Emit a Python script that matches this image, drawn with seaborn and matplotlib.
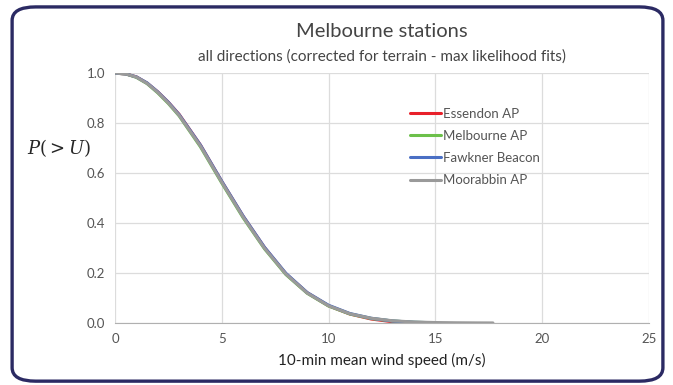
import numpy as np
import pandas as pd
import seaborn as sns
import matplotlib.pyplot as plt
from matplotlib.patches import FancyBboxPatch

# wind speed (m/s) and exceedance probabilities
speed = [0, 0.5, 1, 1.5, 2, 2.5, 3, 4, 5, 6, 7, 8, 9, 10, 11, 12, 13, 14, 15, 16, 17, 17.7]
essendon = [1.0, 0.997, 0.985, 0.96, 0.925, 0.883, 0.835, 0.712, 0.566, 0.427, 0.302, 0.197,
            0.121, 0.069, 0.036, 0.016, 0.005, 0.0]
melbourne = [1.0, 0.997, 0.983, 0.958, 0.921, 0.878, 0.829, 0.705, 0.560, 0.421, 0.297, 0.194,
             0.119, 0.068, 0.036, 0.018, 0.008, 0.003, 0.001]
fawkner = [1.0, 0.997, 0.985, 0.961, 0.925, 0.883, 0.834, 0.712, 0.567, 0.428, 0.303, 0.199,
           0.122, 0.071, 0.038, 0.019, 0.008, 0.003, 0.001]
moorabbin = [1.0, 0.997, 0.984, 0.959, 0.923, 0.880, 0.831, 0.708, 0.563, 0.424, 0.299, 0.196,
             0.120, 0.069, 0.037, 0.019, 0.009, 0.004, 0.002, 0.001, 0.0005, 0.0003]

stations = ["Essendon AP", "Melbourne AP", "Fawkner Beacon", "Moorabbin AP"]
series = [essendon, melbourne, fawkner, moorabbin]
colors = ["#e8202a", "#6cc04a", "#4a6fc4", "#9a9a9a"]

rows = []
for name, vals in zip(stations, series):
    for u, p in zip(speed, vals):
        rows.append({"U": u, "P": p, "Station": name})
df = pd.DataFrame(rows)

sns.set_style("white")
plt.rcParams["font.family"] = ["Lato", "DejaVu Sans"]
plt.rcParams["mathtext.fontset"] = "dejavuserif"

fig = plt.figure(figsize=(6.73, 3.85), dpi=100)
ax = fig.add_axes([0.171, 0.161, 0.793, 0.649])

sns.lineplot(data=df, x="U", y="P", hue="Station", palette=colors,
             hue_order=stations, linewidth=2.2, ax=ax, sort=False)

ax.set_xlim(0, 25)
ax.set_ylim(0, 1.0)
ax.set_xticks([0, 5, 10, 15, 20, 25])
ax.set_yticks(np.arange(0, 1.01, 0.2))
ax.set_yticklabels([f"{v:.1f}" for v in np.arange(0, 1.01, 0.2)])
ax.grid(True, color="#dcdcdc", linewidth=0.9)
for s in ["top", "right", "left"]:
    ax.spines[s].set_visible(False)
ax.spines["bottom"].set_color("#b0b0b0")
ax.tick_params(axis="both", colors="#555555", labelsize=9.5, length=0, pad=7)

ax.set_xlabel("10-min mean wind speed (m/s)", fontsize=11, color="#222222", labelpad=6)
ax.set_ylabel("")
fig.text(0.088, 0.615, r"$P(>U)$", fontsize=13, ha="center", va="center")

fig.text(0.567, 0.918, "Melbourne stations", fontsize=14.5, ha="center",
         va="center", color="#444444")
fig.text(0.567, 0.852, "all directions (corrected for terrain - max likelihood fits)",
         fontsize=11, ha="center", va="center", color="#444444")

leg = ax.legend(loc="upper left", bbox_to_anchor=(0.53, 0.91), frameon=False,
                fontsize=9.5, handlelength=2.4, handletextpad=0.1,
                labelspacing=0.78)
for t in leg.get_texts():
    t.set_color("#555555")

border = FancyBboxPatch((0.018, 0.01), 0.967, 0.972, transform=fig.transFigure,
                        boxstyle="round,pad=0,rounding_size=0.035",
                        fill=False, edgecolor="#2b2a63", linewidth=2.4)
fig.patches.append(border)

fig.savefig("out.png", dpi=100)
